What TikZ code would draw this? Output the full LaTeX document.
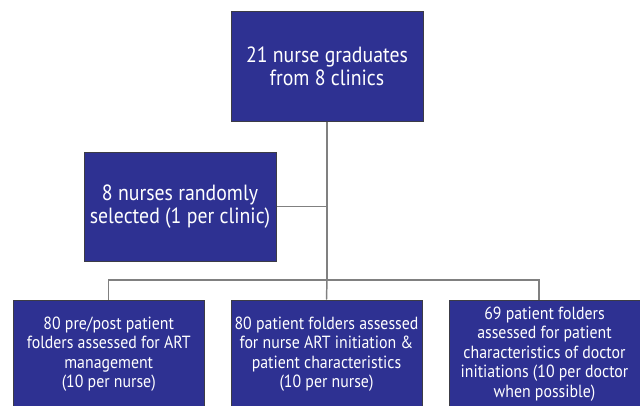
\documentclass[tikz,border=0pt]{standalone}
\usepackage{fontspec}
\setsansfont{PT Sans}[FakeStretch=0.9]
\definecolor{navy}{RGB}{46,49,146}
\definecolor{boxline}{RGB}{60,60,70}
\definecolor{linkgray}{RGB}{128,128,128}
\begin{document}
\begin{tikzpicture}[x=0.75pt,y=-0.75pt,
  box/.style={draw=boxline, line width=0.75pt, fill=navy, text=white,
    align=center, inner sep=0pt, minimum width=144pt},
  bigtext/.style={font=\sffamily\fontsize{16.5}{17.5}\selectfont},
  smalltext/.style={font=\sffamily\fontsize{13.2}{14.6}\selectfont},
  link/.style={draw=linkgray, line width=1.1pt}]
\useasboundingbox (0,0) rectangle (640,405);
\clip (0,0) rectangle (640,405);

% top and second level
\node[box, bigtext, minimum height=82.5pt] (top) at (327,66)
  {21 nurse graduates\\from 8 clinics};
\node[box, bigtext, minimum height=81.75pt] (mid) at (180,206.5)
  {8 nurses randomly\\selected (1 per clinic)};

% bottom row (runs off the lower edge)
\node[box, smalltext, minimum width=143.25pt, minimum height=81pt] (b1) at (108.75,354)
  {80 pre/post patient\\folders assessed for ART\\management\\(10 per nurse)};
\node[box, smalltext, minimum width=143.25pt, minimum height=81pt] (b2) at (326.5,354)
  {80 patient folders assessed\\for nurse ART initiation \&\\patient characteristics\\(10 per nurse)};
\node[box, smalltext, minimum width=143.25pt, minimum height=81pt] (b3) at (544.5,354)
  {69 patient folders\\assessed for patient\\characteristics of doctor\\initiations (10 per doctor\\when possible)};

% connectors
\coordinate (split) at (327,280);
\coordinate (b3leg) at ([xshift=-4.1pt]b3.north);
\draw[link] (top.south) -- (split);
\draw[link] (mid.east) -- (mid.east -| split);
\draw[link] (b1.north) |- (split) -| (b3leg);
\draw[link] (split) -- (b2.north);
\end{tikzpicture}
\end{document}
